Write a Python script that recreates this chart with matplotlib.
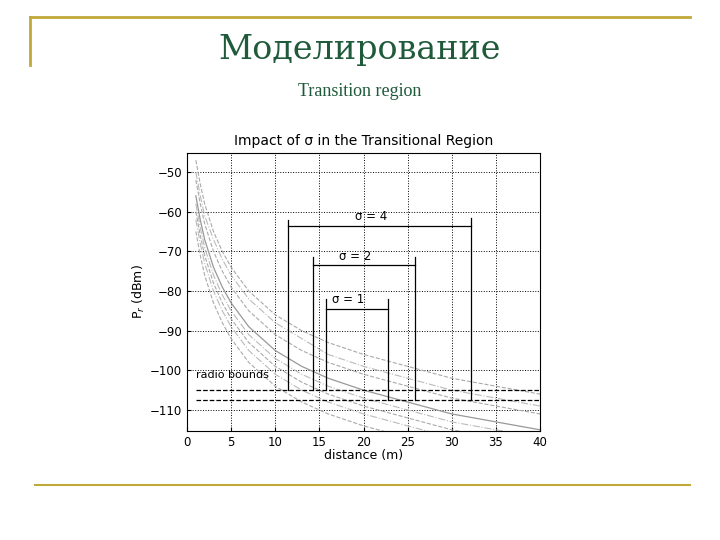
import matplotlib.pyplot as plt
from matplotlib.lines import Line2D

# distance samples (m) for the received-power curves
dist = [1, 1.5, 2, 3, 4, 5, 7, 10, 13, 16, 20, 25, 30, 35, 40]
mean_curve = [-56, -62, -67, -74, -79, -83, -89, -95, -99, -102, -105, -108, -111, -113, -115]
dashed_curves = [
    [-47, -53, -58, -65, -70, -74, -80, -86, -90, -93, -96, -99, -102, -104, -106],
    [-52, -58, -63, -70, -75, -79, -85, -91, -95, -98, -101, -104, -107, -109, -111],
    [-60, -66, -71, -78, -83, -87, -93, -99, -103, -106, -109, -112, -115, -117, -119],
    [-65, -71, -76, -83, -88, -92, -98, -104, -108, -111, -114, -117, -120, -122, -124],
]
dashdot_curves = [
    [-50, -56, -61, -67, -72, -76, -82, -88, -92, -96, -99, -102, -105, -107, -109],
    [-58, -64, -69, -76, -81, -85, -91, -97, -101, -104, -107, -110, -113, -115, -117],
    [-62, -68, -73, -80, -85, -89, -95, -101, -105, -108, -111, -114, -117, -119, -121],
]

# transitional-region brackets: (label, x_left, x_right, y_bar, y_left_top, y_right_top)
brackets = [
    ("σ = 4", 11.5, 32.2, -63.5, -62, -61.5),
    ("σ = 2", 14.3, 25.8, -73.5, -71.5, -71.5),
    ("σ = 1", 15.8, 22.8, -84.5, -82, -82),
]
bound_upper = -105
bound_lower = -107.5

fig = plt.figure(figsize=(7.2, 5.4), dpi=100)

# slide decoration
gold = "#c0a93a"
green = "#1f5a3a"
fig.add_artist(Line2D([30/720, 690/720], [1-17/540, 1-17/540], color=gold, lw=2))
fig.add_artist(Line2D([30/720, 30/720], [1-17/540, 1-65/540], color=gold, lw=2))
fig.add_artist(Line2D([35/720, 690/720], [1-485/540, 1-485/540], color=gold, lw=1.5))
fig.text(0.5, 1-50/540, "Моделирование", ha="center", va="center",
         fontsize=24, family="DejaVu Serif", color=green)
fig.text(0.5, 1-92/540, "Transition region", ha="center", va="center",
         fontsize=13, family="Liberation Serif", color=green)

ax = fig.add_axes([187/720, 1-431/540, 353/720, 278/540])
for c in dashed_curves:
    ax.plot(dist, c, color="#aaaaaa", lw=0.8, ls="--")
for c in dashdot_curves:
    ax.plot(dist, c, color="#bbbbbb", lw=0.8, ls="-.")
ax.plot(dist, mean_curve, color="#999999", lw=0.9)

ax.plot([1, 40], [bound_upper, bound_upper], "k--", lw=0.9)
ax.plot([1, 40], [bound_lower, bound_lower], "k--", lw=0.9)
ax.text(1, -102, "radio bounds", fontsize=8)

for label, xl, xr, yb, ylt, yrt in brackets:
    ax.plot([xl, xr], [yb, yb], color="k", lw=0.9)
    ax.plot([xl, xl], [ylt, bound_upper], color="k", lw=0.9)
    ax.plot([xr, xr], [yrt, bound_lower], color="k", lw=0.9)
    ax.text((xl + xr) / 2 - 1, yb + 0.6, label, fontsize=8.5, ha="center", va="bottom")

ax.set_xlim(0, 40)
ax.set_ylim(-115.3, -45.2)
ax.set_xticks(range(0, 41, 5))
ax.set_yticks(range(-110, -49, 10))
ax.set_yticklabels(["\u2212%d" % abs(v) for v in range(-110, -49, 10)])
ax.grid(True, color="k", ls=":", lw=0.7)
ax.tick_params(labelsize=8.5, direction="in", length=3)
ax.set_xlabel("distance (m)", fontsize=9, labelpad=0)
ax.set_ylabel("P$_r$ (dBm)", fontsize=9, labelpad=2)
ax.set_title("Impact of σ in the Transitional Region", fontsize=10, pad=6)

fig.savefig("out.png", dpi=100)
